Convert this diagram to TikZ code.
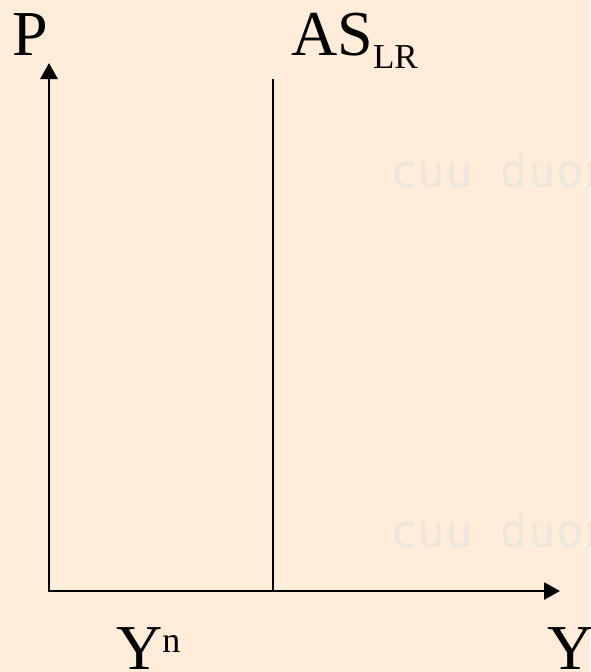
\documentclass[tikz,border=0pt]{standalone}
\usepackage{fontspec}
\setmainfont{Liberation Serif}
\newfontfamily\wmfont{DejaVu Sans Mono}
\usetikzlibrary{arrows.meta}
\definecolor{bgpeach}{HTML}{FFECD9}
\definecolor{wmgray}{HTML}{EDE6DA}
\tikzset{
  axisline/.style={line width=2.8pt, black},
  axtip/.tip={Triangle[length=16pt,width=17pt]},
  lbl/.style={anchor=base west, inner sep=0pt, font=\fontsize{64}{64}\selectfont},
  wm/.style={anchor=base west, inner sep=0pt, text=wmgray, font=\wmfont\fontsize{46}{46}\selectfont}
}
\begin{document}
\begin{tikzpicture}[x=1pt,y=-1pt]
\fill[bgpeach] (0,0) rectangle (590,672);
\useasboundingbox (0,0) rectangle (590,672);
\begin{scope}
\clip (0,0) rectangle (590,672);
\node[wm] (wm1) at (390,187) {cuu duong than cong . com};
\node[wm] (wm2) at (390,547) {cuu duong than cong . com};
\end{scope}
\coordinate (O) at (49,591);
\coordinate (ytop) at (49,63);
\coordinate (xend) at (560,591);
\coordinate (astop) at (273,79);
\coordinate (asbot) at (273,591);
\draw[axisline, axtip-axtip] (ytop) -- (O) -- (xend);
\draw[axisline] (astop) -- (asbot);
\node[lbl] (P) at (12,55) {P};
\node[lbl] (AS) at (291,55) {AS\raisebox{-13pt}{\fontsize{35}{35}\selectfont LR}};
\node[lbl] (Yn) at (116,669) {Y\raisebox{17pt}{\fontsize{36}{36}\selectfont n}};
\node[lbl] (Y) at (547,669) {Y};
\end{tikzpicture}
\end{document}
